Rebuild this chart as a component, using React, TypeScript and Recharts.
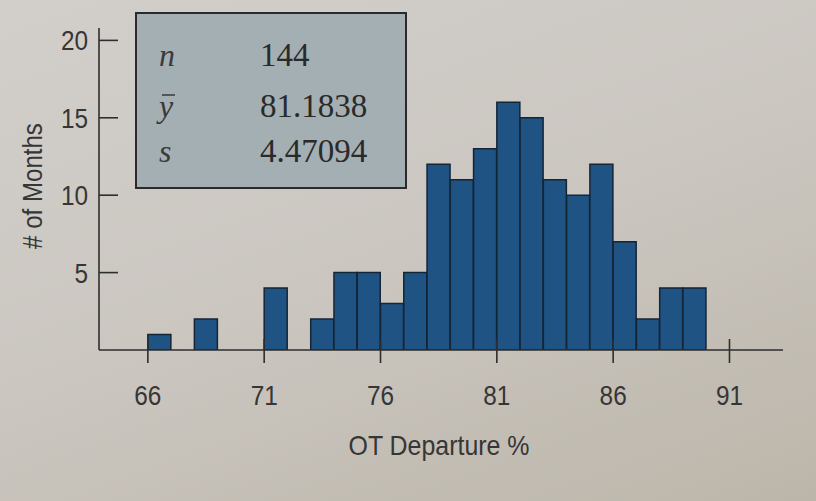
import { Bar, BarChart, XAxis, YAxis } from 'recharts';

// one bin per whole percent, bars drawn at the bin centre
const binStarts = [66, 67, 68, 69, 70, 71, 72, 73, 74, 75, 76, 77, 78, 79, 80, 81, 82, 83, 84, 85, 86, 87, 88, 89];
const monthCounts = [1, 0, 2, 0, 0, 4, 0, 2, 5, 5, 3, 5, 12, 11, 13, 16, 15, 11, 10, 12, 7, 2, 4, 4];
const xTicks = [66, 71, 76, 81, 86, 91];
const yTicks = [5, 10, 15, 20];
const statLabels = ['n', 'y', 's'];
const statValues = ['144', '81.1838', '4.47094'];

const sans = "'Liberation Sans', Arial, Helvetica, sans-serif";
const serif = "'Liberation Serif', 'Times New Roman', serif";
const axisColor = '#2e2e2e';
const textColor = '#363636';

// the printed figure uses a condensed Helvetica, so squeeze regular sans horizontally
function NarrowText({
  x,
  y,
  size,
  anchor,
  rotate = 0,
  squeeze = 0.87,
  children,
}: {
  x: number;
  y: number;
  size: number;
  anchor: 'start' | 'middle' | 'end';
  rotate?: number;
  squeeze?: number;
  children: any;
}) {
  return (
    <text
      transform={`translate(${x},${y}) rotate(${rotate}) scale(${squeeze},1)`}
      x={0}
      y={0}
      textAnchor={anchor}
      fontFamily={sans}
      fontSize={size}
      fill={textColor}
    >
      {children}
    </text>
  );
}

function YTick({ x, y, payload }: { x?: number; y?: number; payload?: { value: number } }) {
  const px = x ?? 0;
  const py = y ?? 0;
  return (
    <g>
      <line x1={px} x2={px + 19} y1={py} y2={py} stroke={axisColor} strokeWidth={1.6} />
      <NarrowText x={px - 11} y={py + 10} size={28} anchor="end">
        {payload?.value}
      </NarrowText>
    </g>
  );
}

function XTick({ x, y, payload }: { x?: number; y?: number; payload?: { value: number } }) {
  const px = x ?? 0;
  const py = y ?? 0;
  return (
    <g>
      <line x1={px} x2={px} y1={py - 11} y2={py + 13} stroke={axisColor} strokeWidth={1.6} />
      <NarrowText x={px} y={py + 55} size={28} anchor="middle">
        {payload?.value}
      </NarrowText>
    </g>
  );
}

function StatsBox() {
  const rowBaselines = [52, 103, 148];
  return (
    <div
      style={{
        position: 'absolute',
        left: 135,
        top: 12,
        width: 268,
        height: 173,
        border: '2px solid #2a2a2a',
        background: '#a4afb3',
      }}
    >
      <svg width={268} height={173} style={{ display: 'block' }}>
        {statLabels.map((label, i) => (
          <text
            key={label}
            x={22}
            y={rowBaselines[i]}
            fontFamily={serif}
            fontStyle="italic"
            fontSize={32}
            fill="#3a3a3a"
          >
            {label}
          </text>
        ))}
        <line x1={25} x2={38} y1={81} y2={81} stroke="#3a3a3a" strokeWidth={1.5} />
        {statValues.map((value, i) => (
          <text key={value} x={123} y={rowBaselines[i]} fontFamily={serif} fontSize={33} fill="#2a2a2a">
            {value}
          </text>
        ))}
      </svg>
    </div>
  );
}

export default function App() {
  const data = binStarts.map((start, i) => ({ mid: start + 0.5, count: monthCounts[i] }));

  return (
    <div
      style={{
        position: 'fixed',
        left: 0,
        top: 0,
        width: 816,
        height: 501,
        overflow: 'hidden',
        background: 'linear-gradient(160deg, #d2cfcb 0%, #cbc6c0 50%, #bcb6aa 100%)',
      }}
    >
      <BarChart
        width={816}
        height={501}
        data={data}
        barCategoryGap={0}
        barGap={0}
        margin={{ top: 28, right: 33, left: 39, bottom: 31 }}
      >
        <XAxis
          dataKey="mid"
          type="number"
          domain={[63.9, 93.3]}
          ticks={xTicks}
          allowDataOverflow
          height={120}
          tickSize={0}
          tickMargin={0}
          tick={<XTick />}
          axisLine={{ stroke: axisColor, strokeWidth: 1.6 }}
          label={{
            content: ({ viewBox }: any) => (
              <NarrowText x={viewBox.x + viewBox.width / 2 - 2} y={viewBox.y + 105} size={28} anchor="middle" squeeze={0.89}>
                OT Departure %
              </NarrowText>
            ),
          }}
        />
        <YAxis
          type="number"
          domain={[0, 20.8]}
          ticks={yTicks}
          allowDataOverflow
          width={60}
          tickSize={0}
          tickMargin={0}
          tick={<YTick />}
          axisLine={{ stroke: axisColor, strokeWidth: 1.6 }}
          label={{
            content: ({ viewBox }: any) => (
              <NarrowText x={42} y={viewBox.y + viewBox.height / 2 - 3} size={28} anchor="middle" rotate={-90} squeeze={0.86}>
                # of Months
              </NarrowText>
            ),
          }}
        />
        <Bar dataKey="count" fill="#1f5383" stroke="#142536" strokeWidth={1.5} isAnimationActive={false} />
      </BarChart>
      <StatsBox />
    </div>
  );
}
